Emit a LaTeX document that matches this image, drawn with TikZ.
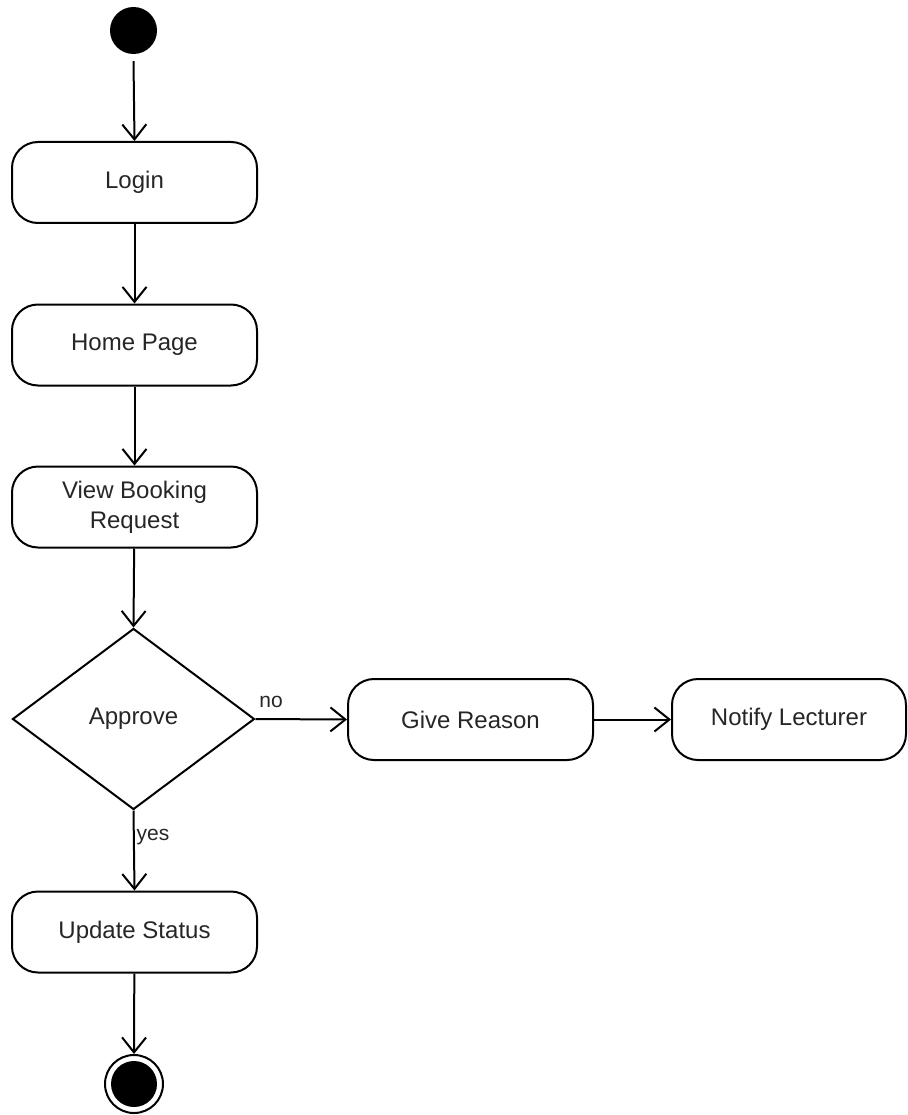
\documentclass[tikz,border=0pt]{standalone}
\usepackage{fontspec}
\setmainfont{Liberation Sans}
\usetikzlibrary{arrows.meta,shapes.geometric}
\begin{document}
\begin{tikzpicture}[x=1pt,y=-1pt,
  every node/.style={font=\fontsize{24}{30}\selectfont, text=black!85},
  activity/.style={draw, line width=2pt, rounded corners=26pt, minimum width=245pt, minimum height=81pt, align=center, inner sep=0pt},
  decision/.style={draw, line width=2pt, diamond, shape aspect=1.337, minimum width=242pt, minimum height=181pt, inner sep=0pt},
  flow/.style={draw, line width=2pt, -{Straight Barb[length=15pt,width=24pt,line width=2pt]}},
  guard/.style={font=\fontsize{21}{25}\selectfont, inner sep=0pt}
]
\useasboundingbox (0,0) rectangle (907,1115);

% initial and final states
\node[circle, fill=black, minimum size=47pt, inner sep=0pt] (start) at (133.5,30.5) {};
\node[circle, draw, line width=2pt, fill=white, minimum size=58pt, inner sep=0pt] (final) at (134,1084) {};
\fill[black] (final.center) circle (23pt);

% actions
\node[activity] (login) at (134.5,182.5) {Login};
\node[activity] (home) at (134.5,345) {Home Page};
\node[activity] (view) at (134.5,507) {View Booking\\Request};
\node[decision] (approve) at (133.5,719) {Approve};
\node[activity] (reason) at (470.5,719.5) {Give Reason};
\node[activity, minimum width=234pt] (notify) at (789,719.5) {Notify Lecturer};
\node[activity] (update) at (134.5,932) {Update Status};

% control flows
\draw[flow] (start.south) ++(0,7) -- (login.north);
\draw[flow] (login) -- (home);
\draw[flow] (home) -- (view);
\draw[flow] (view) -- (approve.north);
\draw[flow] (approve.east) -- (reason.west);
\draw[flow] (reason) -- (notify);
\draw[flow] (approve.south) -- (update.north);
\draw[flow] (update) -- (final.north);

% guards
\node[guard] (no) at (271,702) {no};
\node[guard] (yes) at (153,837) {yes};
\end{tikzpicture}
\end{document}
